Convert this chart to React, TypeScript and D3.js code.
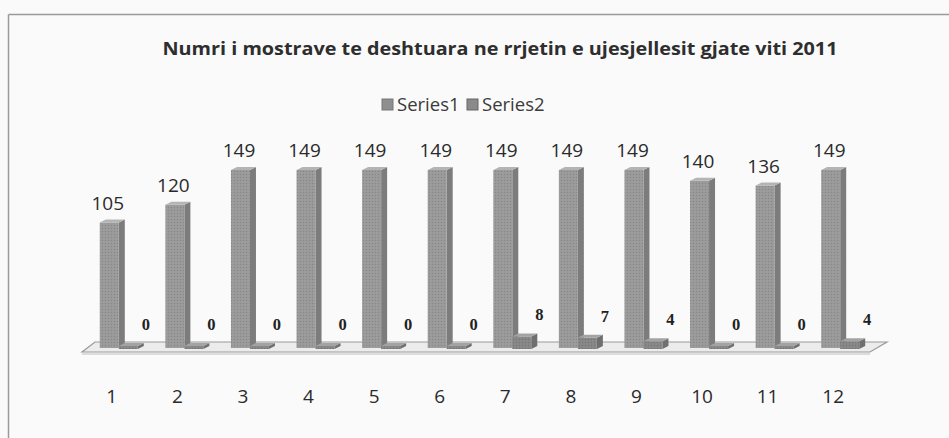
import React from "react";
import * as d3 from "d3";

const categories = ["1", "2", "3", "4", "5", "6", "7", "8", "9", "10", "11", "12"];
const series1 = [105, 120, 149, 149, 149, 149, 149, 149, 149, 140, 136, 149];
const series2 = [0, 0, 0, 0, 0, 0, 8, 7, 4, 0, 0, 4];
const seriesNames = ["Series1", "Series2"];
const title = "Numri i mostrave te deshtuara ne rrjetin e ujesjellesit gjate viti 2011";

const W = 949;
const H = 438;
const FONT = "'Open Sans', 'Noto Sans', sans-serif";

export default function App() {
  const x = d3.scaleBand<string>().domain(categories).range([79, 866]).paddingInner(0).paddingOuter(0);
  const y = d3.scaleLinear().domain([0, 149]).range([348, 170]);
  const step = x.step();
  const dx = 6;
  const dy = -3;

  const floorBackY = 342;
  const floorFrontY = 352;
  const floorLeft = x.range()[0] + 3;
  const floorRight = x.range()[1] + 4;

  const bar = (x0: number, w: number, top: number, base: number, fills: string[], key: string) => {
    const front = `M${x0},${base}L${x0},${top}L${x0 + w},${top}L${x0 + w},${base}Z`;
    const side = `M${x0 + w},${base}L${x0 + w},${top}L${x0 + w + dx},${top + dy}L${x0 + w + dx},${base + dy}Z`;
    const topF = `M${x0},${top}L${x0 + dx},${top + dy}L${x0 + w + dx},${top + dy}L${x0 + w},${top}Z`;
    return (
      <g key={key}>
        <path d={side} fill={fills[1]} />
        <path d={front} fill={fills[0]} />
        <path d={front} fill="url(#dots)" />
        <path d={topF} fill={fills[2]} />
      </g>
    );
  };

  return (
    <svg width={W} height={H} style={{ position: "absolute", left: 0, top: 0 }}>
      <defs>
        <pattern id="dots" width="3" height="3" patternUnits="userSpaceOnUse">
          <rect width="1" height="1" fill="#000" opacity="0.12" />
          <rect x="1.5" y="1.5" width="1" height="1" fill="#fff" opacity="0.12" />
        </pattern>
      </defs>
      <rect x={0} y={0} width={W} height={H} fill="#fafafa" />
      <line x1={8.5} x2={W} y1={14.5} y2={14.5} stroke="#9a9a9a" strokeWidth={1.5} />
      <line x1={8.5} x2={8.5} y1={14.5} y2={H} stroke="#9a9a9a" strokeWidth={1.5} />
      <text x={500} y={55} textAnchor="middle" fontFamily={FONT} fontWeight="bold" fontSize={18.5} fill="#2e2e2e" textLength={675} lengthAdjust="spacingAndGlyphs">
        {title}
      </text>
      {/* legend */}
      <g fontFamily={FONT} fontSize={18.5} fill="#3a3a3a">
        <rect x={382} y={99} width={11} height={11} fill="#8f8f8f" stroke="#777" />
        <text x={397} y={111}>{seriesNames[0]}</text>
        <rect x={467} y={99} width={11} height={11} fill="#8a8a8a" stroke="#666" />
        <text x={482} y={111}>{seriesNames[1]}</text>
      </g>
      {/* floor */}
      <path
        d={`M${floorLeft + 13},${floorBackY}L${floorRight + 17},${floorBackY}L${floorRight},${floorFrontY}L${floorLeft},${floorFrontY}Z`}
        fill="#ececec"
        stroke="#9a9a9a"
        strokeWidth={1.2}
      />
      <line x1={floorLeft} x2={floorRight} y1={floorFrontY + 2} y2={floorFrontY + 2} stroke="#bdbdbd" strokeWidth={1.2} />
      {categories.map((c, i) => {
        const cx = (x(c) as number) + step / 2;
        const b1x = cx - 12;
        const b2x = cx + 7;
        const base = y(0);
        return (
          <g key={c}>
            {bar(b1x, 19, y(series1[i]), base, ["#999999", "#7c7c7c", "#b4b4b4"], "s1")}
            {bar(b2x, 19, Math.min(y(series2[i]) - 2, base - 2), base + 1, ["#858585", "#6f6f6f", "#a3a3a3"], "s2")}
            <text x={cx - 4} y={y(series1[i]) - 13} textAnchor="middle" fontFamily={FONT} fontSize={19} fill="#2a2a2a">
              {series1[i]}
            </text>
            <text x={cx + 34} y={y(series2[i]) - 18} textAnchor="middle" fontFamily="'Liberation Serif', 'DejaVu Serif', serif" fontWeight="bold" fontSize={16.5} fill="#222">
              {series2[i]}
            </text>
            <text x={cx} y={403} textAnchor="middle" fontFamily={FONT} fontSize={19} fill="#2a2a2a">
              {c}
            </text>
          </g>
        );
      })}
    </svg>
  );
}
